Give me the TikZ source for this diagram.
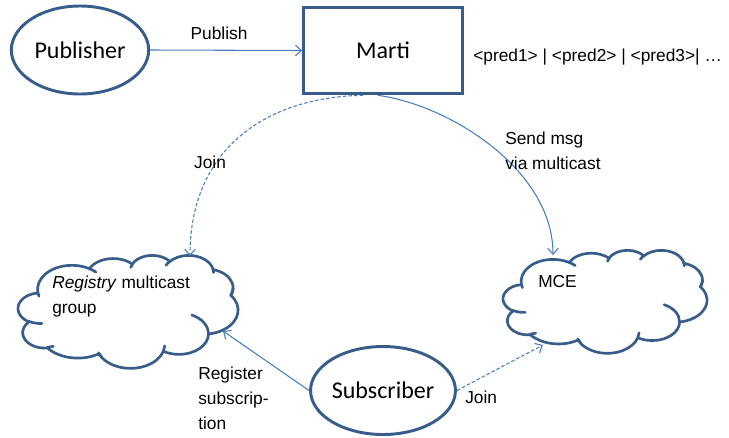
\documentclass[tikz,border=0pt]{standalone}
\usepackage{fontspec}
\setmainfont{Liberation Sans}
\newfontfamily\calfont{Carlito}
\usetikzlibrary{arrows.meta,shapes.geometric}

\definecolor{shapeblue}{HTML}{385D8A}
\definecolor{linkblue}{HTML}{4A7EBB}

% One arc of the cloud outline: x radius, y radius, start angle, sweep
% (angles measured on the drawn ellipse, turned into parametric angles)
\newcommand\cloudarc[4]{%
  \pgfmathsetmacro\caA{#3}%
  \pgfmathsetmacro\caB{#3+#4}%
  \pgfmathsetmacro\caT{atan2(#1*sin(\caA),#2*cos(\caA))}%
  \pgfmathsetmacro\caU{atan2(#1*sin(\caB),#2*cos(\caB))}%
  \pgfmathsetmacro\caD{\caU-\caT}%
  \pgfmathsetmacro\caD{ifthenelse(#4>0,ifthenelse(\caD<0,\caD+360,\caD),ifthenelse(\caD>0,\caD-360,\caD))}%
  \pgfmathsetmacro\caE{\caT+\caD}%
  \pgfpatharc{\caT}{\caE}{#1pt and #2pt}%
}
\newcommand\cloudtick[6]{%
  \pgfpathmoveto{\pgfpoint{#1pt}{#2pt}}\cloudarc{#3}{#4}{#5}{#6}}

% Cloud in a 4320 x 4320 box, placed at (x0,y0) with width w and height h
\newcommand\drawcloud[4]{%
  \begin{scope}[shift={(#1,#2)},xscale=#3*0.75/4320,yscale=-#4*0.75/4320]
    \pgfsetlinewidth{2pt}%
    \pgfsetstrokecolor{shapeblue}%
    \pgfsetfillcolor{white}%
    \pgfsetroundcap
    \pgfpathmoveto{\pgfpoint{390pt}{1437pt}}%
    \cloudarc{675.3}{919.0}{-190.4875}{123.7805}%
    \cloudarc{533.3}{726.7}{-144.1024}{89.9452}%
    \cloudarc{436.5}{594.5}{-145.8079}{99.7230}%
    \cloudarc{485.7}{659.5}{-130.9861}{117.2417}%
    \cloudarc{533.3}{727.3}{-78.7089}{109.0269}%
    \cloudarc{677.5}{922.0}{-46.2673}{130.2690}%
    \cloudarc{578.5}{786.7}{0.6250}{114.0333}%
    \cloudarc{675.2}{921.5}{22.4654}{127.0769}%
    \pgfpatharc{57.56}{140.63}{772pt and 1054.3pt}%
    \cloudarc{436.0}{591.8}{-274.9421}{147.7316}%
    \cloudarc{434.5}{594.5}{-246.8285}{152.5318}%
    \pgfpathclose
    \pgfusepath{fill,stroke}%
    \cloudtick{469.3}{2617.7}{434.5}{594.5}{86.742}{26.4295}%
    \cloudtick{692.8}{3489.9}{436.0}{591.8}{73.6105}{11.4475}%
    \cloudtick{1647.8}{3909.0}{675.2}{921.5}{137.6242}{14.0811}%
    \cloudtick{2882.7}{3475.1}{675.2}{921.5}{6.4533}{15.9984}%
    \cloudtick{3412.9}{2295.4}{578.5}{786.7}{-70.2924}{70.9174}%
    \cloudtick{4179.8}{1535.4}{533.3}{727.3}{30.3180}{-27.7515}%
    \cloudtick{3832.4}{542.6}{485.7}{659.5}{-13.7443}{14.8622}%
    \cloudtick{2907.8}{395.2}{485.7}{659.5}{-149.1815}{18.1954}%
    \cloudtick{2214.1}{472.0}{436.5}{594.5}{-163.4943}{17.6864}%
    \cloudtick{1400.0}{519.2}{675.3}{919.0}{-66.7070}{12.3194}%
    \cloudtick{412.7}{1578.9}{675.3}{919.0}{157.6544}{11.8582}%
    \pgfusepath{stroke}%
  \end{scope}%
}

\tikzset{
  shapeline/.style={draw=shapeblue,line width=2.2pt,fill=white},
  oval/.style={shapeline,ellipse,inner sep=0pt,minimum width=103pt,minimum height=66pt,
    font=\calfont\fontsize{18}{21}\selectfont},
  rectbox/.style={shapeline,rectangle,inner sep=0pt,minimum width=119pt,minimum height=65pt,
    font=\calfont\fontsize{18}{21}\selectfont},
  lbl/.style={font=\fontsize{13}{18.75}\selectfont,inner sep=0pt,align=left},
  link/.style={draw=linkblue,line width=0.8pt,-{Straight Barb[length=4.5pt,width=8pt]}},
  dashlink/.style={link,dash pattern=on 2.6pt off 1.6pt}
}

\begin{document}
\begin{tikzpicture}[x=0.75pt,y=-0.75pt]
\useasboundingbox[fill=white] (0,0) rectangle (729,437);

% multicast groups
\drawcloud{18}{255}{220}{113}
\drawcloud{503}{250}{204}{103}
\node[lbl,anchor=west] (regtext) at (52,297) {\textit{Registry} multicast\\group};
\node[lbl,anchor=west] (mcetext) at (538,282) {MCE};

% parties
\node[oval] (pub) at (80,50) {Publisher};
\node[rectbox] (marti) at (383,50.5) {Marti};
\node[oval] (sub) at (383,390.5) {Subscriber};

\node[lbl,anchor=west] (preds) at (473,57) {<pred1> | <pred2> | <pred3>| \dots};

% connector ends on the clouds
\coordinate (regjoin) at (190,256);
\coordinate (regreg) at (223,331);
\coordinate (mcesend) at (553,255);
\coordinate (mcejoin) at (543,345);

% connectors
\draw[link] (pub.east) -- (marti.west);
\draw[dashlink] ([xshift=-15pt]marti.south) .. controls (265,97) and (190,150) .. (regjoin);
\draw[link] ([xshift=-4pt]marti.south) .. controls (450,105) and (553,170) .. (mcesend);
\draw[link] (sub.west) -- (regreg);
\draw[dashlink] (sub.east) -- (mcejoin);

% connector labels
\node[lbl] (lpublish) at (219,33) {Publish};
\node[lbl] (ljoin1) at (210,162) {Join};
\node[lbl,anchor=west] (lsend) at (505,150.5) {Send msg\\via multicast};
\node[lbl,anchor=west] (lreg) at (198,398) {Register\\subscrip-\\tion};
\node[lbl,anchor=west] (ljoin2) at (465,397) {Join};
\end{tikzpicture}
\end{document}
